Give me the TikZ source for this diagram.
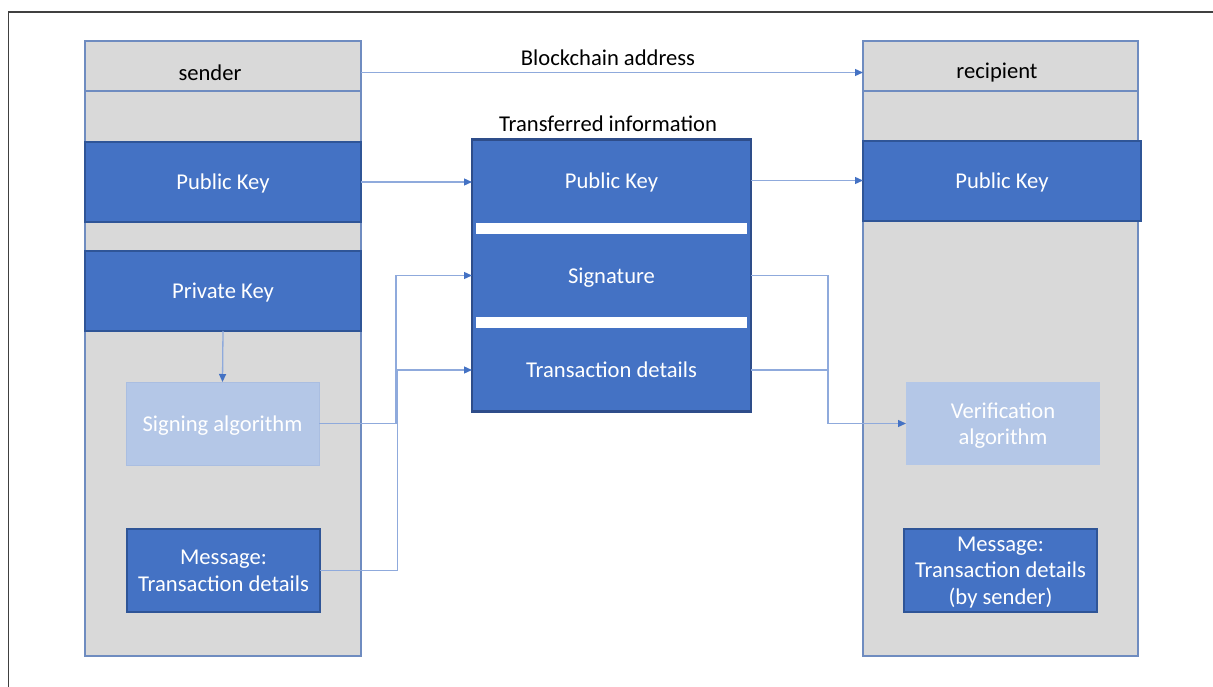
\documentclass[tikz,border=0pt]{standalone}
\usepackage{fontspec}
\setmainfont{Carlito}
\usetikzlibrary{arrows.meta,positioning,calc}
\definecolor{mblue}{HTML}{4472C4}
\definecolor{mbluedark}{HTML}{2F5597}
\definecolor{mlight}{HTML}{B4C7E7}
\definecolor{mline}{HTML}{8FAADC}
\definecolor{mgray}{HTML}{D9D9D9}
\definecolor{mcolb}{HTML}{6F8CC0}
\definecolor{mframe}{HTML}{404040}
\definecolor{mtbox}{HTML}{2E4D8A}
\tikzset{
  every node/.style={inner sep=0pt, outer sep=0pt, font=\fontsize{22.6}{26.5}\selectfont, align=center},
  colbox/.style={draw=mcolb, fill=mgray, line width=1.2pt},
  bluebox/.style={draw=mbluedark, fill=mblue, line width=1.2pt, text=white, text depth=0pt},
  lightbox/.style={fill=mlight, text=white, text depth=0pt},
  section/.style={text=white, text depth=0pt},
  lbl/.style={text=black},
  conn/.style={draw=mline, line width=1.3pt},
  arr/.style={conn, -{Triangle[length=8pt,width=7pt,color=mblue]}},
  strip/.style={draw=mblue, fill=white, line width=1pt},
}
\begin{document}
\begin{tikzpicture}[x=1pt,y=-1pt]
\useasboundingbox (0,0) rectangle (1213,687);
% frame
\draw[mframe, line width=1.6pt] (8.5,687) -- (8.5,12) -- (1213,12);

% sender column
\node[colbox, minimum width=276pt, minimum height=565pt] (sbody) at (223,373.5) {};
\node[colbox, minimum width=276pt, minimum height=50pt] (sh) at (223,66) {};
\node[lbl] (shl) at (210,72.5) {sender};
\node[bluebox, minimum width=276pt, minimum height=80pt] (spk) at (223,182) {Public Key};
\node[bluebox, minimum width=276pt, minimum height=80pt] (spriv) at (223,291) {Private Key};
\node[lightbox, draw=mlight!85!mcolb, line width=0.8pt, minimum width=193pt, minimum height=83pt] (ssign) at (222.5,423.5) {Signing algorithm};
\node[bluebox, minimum width=193pt, minimum height=83pt] (smsg) at (223.5,570.5) {Message:\\Transaction details};

% recipient column
\node[colbox, minimum width=275pt, minimum height=565pt] (rbody) at (1000.5,373.5) {};
\node[colbox, minimum width=275pt, minimum height=50pt] (rh) at (1000.5,66) {};
\node[lbl] (rhl) at (997,72.5) {recipient};
\node[bluebox, minimum width=278pt, minimum height=80pt] (rpk) at (1002,181) {Public Key};
\node[lightbox, minimum width=194pt, minimum height=83pt] (rver) at (1003,423.5) {Verification\\algorithm};
\node[bluebox, minimum width=193pt, minimum height=83pt] (rmsg) at (1000.5,570.5) {Message:\\Transaction details\\(by sender)};

% transferred information
\node[lbl] (ttl) at (608,124) {Transferred information};
\node[draw=mtbox, fill=mblue, line width=2.6pt, minimum width=279pt, minimum height=272pt] (tbox) at (611.5,275.5) {};
\draw[strip] (475,222.5) rectangle (747.5,234.5);
\draw[strip] (475,316.5) rectangle (747.5,328.5);
\node[section, minimum width=279pt, minimum height=83pt] (tpk) at (611.5,180.5) {Public Key};
\node[section, minimum width=279pt, minimum height=81pt] (tsig) at (611.5,275.5) {Signature};
\node[section, minimum width=279pt, minimum height=82pt] (ttd) at (611.5,370) {Transaction details};

% blockchain address
\node[lbl] (bca) at (608,58) {Blockchain address};

% junction coordinates
\coordinate (jl1) at (396,0);
\coordinate (jl2) at (397.5,0);
\coordinate (jr) at (828,0);

% connectors
\draw[arr] (sh.east |- shl) -- (rh.west |- shl);
\draw[arr] (spk.east) -- (tpk.west |- spk.east);
\draw[arr] (tpk.east) -- (rpk.west |- tpk.east);
\draw[arr] (spriv.south) -- (ssign.north);
\draw[arr] (ssign.east) -- (ssign.east -| jl1) |- (tsig.west);
\draw[arr] (smsg.east) -- (smsg.east -| jl2) |- (ttd.west);
\draw[arr] (tsig.east) -- (tsig.east -| jr) |- (rver.west);
\draw[conn] (ttd.east) -- (ttd.east -| jr);
\end{tikzpicture}
\end{document}
